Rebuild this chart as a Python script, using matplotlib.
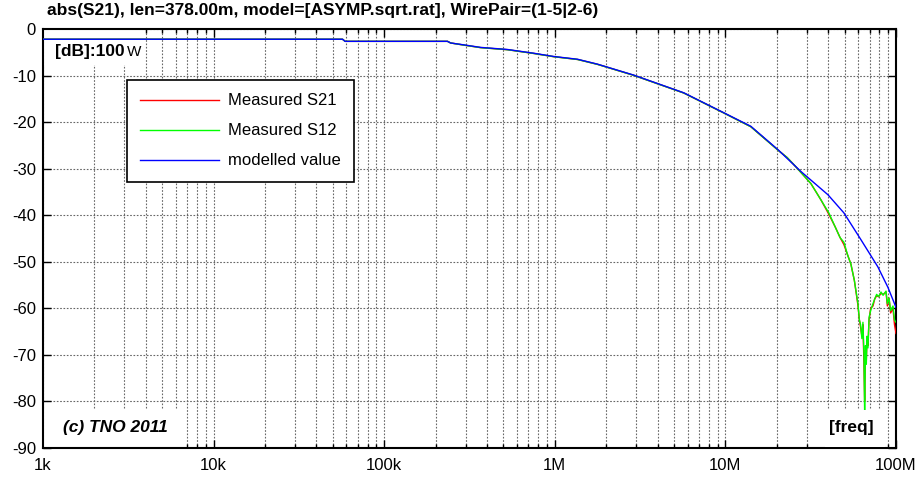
import numpy as np
import matplotlib
matplotlib.use('Agg')
from matplotlib import pyplot as plt
from matplotlib.patches import Rectangle

plt.rcParams['font.family'] = ['Liberation Sans', 'DejaVu Sans']

# model curve (freq in Hz, dB)
freq_model = [1e3, 57e3, 59e3, 235e3, 245e3, 292e3, 367e3, 528e3, 751e3, 985e3,
              1.36e6, 1.78e6, 2.9e6, 5.7e6, 9.8e6, 14.1e6, 20.3e6, 27.7e6, 39.9e6,
              49.5e6, 62.4e6, 78.3e6, 89.7e6, 100e6]
db_model = [-2.2, -2.2, -2.65, -2.65, -3.0, -3.4, -3.95, -4.4, -5.2, -5.9,
            -6.5, -7.55, -9.9, -13.7, -18.0, -20.9, -25.9, -30.6, -35.6,
            -39.5, -45.3, -51.1, -55.5, -59.8]

# measured curves
freq_meas = [1e3, 57e3, 59e3, 235e3, 245e3, 292e3, 367e3, 528e3, 751e3, 985e3,
             1.36e6, 1.78e6, 2.9e6, 5.7e6, 9.8e6, 14.1e6, 20.3e6, 23e6, 25e6,
             27.7e6, 31.7e6, 34e6, 36.3e6, 40.4e6, 44e6, 47e6, 49.5e6, 52e6,
             54.4e6, 57e6, 59.8e6, 61e6, 62e6, 63.1e6, 64e6, 64.9e6, 65.5e6,
             66.2e6, 67e6, 67.6e6, 68.5e6, 69.5e6, 71e6, 73.3e6, 75e6, 77e6,
             79e6, 81.7e6, 84e6, 87.4e6, 89e6, 91e6, 93e6, 96e6, 98e6, 100e6]
db_s12 = [-2.2, -2.2, -2.65, -2.65, -3.0, -3.45, -4.0, -4.45, -5.25, -5.95,
          -6.55, -7.6, -9.95, -13.75, -18.05, -21.0, -26.0, -27.6, -29.0,
          -30.8, -33.2, -35.0, -36.7, -39.5, -42.5, -44.8, -45.8, -48.5,
          -50.5, -54.0, -58.9, -62.5, -63.5, -66.5, -63.0, -70.0, -82.7,
          -68.0, -72.0, -66.0, -68.5, -62.0, -60.5, -59.0, -58.0, -57.0,
          -57.5, -56.5, -57.2, -56.3, -59.0, -57.8, -60.5, -59.5, -62.5, -63.0]
db_s21 = [-2.2, -2.2, -2.65, -2.65, -3.0, -3.45, -4.0, -4.45, -5.25, -5.95,
          -6.55, -7.6, -9.95, -13.75, -18.05, -21.0, -26.0, -27.6, -29.0,
          -30.8, -33.2, -35.0, -36.7, -39.8, -42.5, -44.8, -46.3, -48.5,
          -50.5, -54.0, -59.3, -62.5, -64.0, -66.0, -63.5, -72.0, -80.0,
          -69.0, -71.0, -66.5, -68.0, -62.5, -60.0, -59.5, -58.0, -57.3,
          -57.5, -56.8, -57.0, -56.5, -59.5, -57.8, -61.0, -60.0, -63.5, -65.4]

xticks = [1e3, 1e4, 1e5, 1e6, 1e7, 1e8]
xlabels = ['1k', '10k', '100k', '1M', '10M', '100M']
yticks = [0, -10, -20, -30, -40, -50, -60, -70, -80, -90]

fig = plt.figure(figsize=(9.22, 4.79), dpi=100)
ax = fig.add_axes([43/922, 31/479, 853/922, 419/479])

ax.plot(freq_meas, db_s21, color='#ff0000', lw=1.0, label='Measured S21', zorder=3)
ax.plot(freq_meas, db_s12, color='#00ff00', lw=1.0, label='Measured S12', zorder=4)
ax.plot(freq_model, db_model, color='#0000ff', lw=1.0, label='modelled value', zorder=5)

ax.set_xscale('log')
ax.set_xlim(1e3, 1e8)
ax.set_ylim(-90, 0)
ax.set_xticks(xticks)
ax.set_xticklabels(xlabels)
ax.set_yticks(yticks)
ax.set_yticklabels([str(v) for v in yticks])
ax.xaxis.set_minor_locator(matplotlib.ticker.LogLocator(base=10, subs=np.arange(2, 10)))
ax.xaxis.set_minor_formatter(matplotlib.ticker.NullFormatter())

ax.tick_params(which='both', direction='in', top=True, right=True, labelsize=12, width=1.0)
ax.tick_params(which='major', length=6)
ax.tick_params(which='minor', length=3)
ax.tick_params(axis='x', pad=7)
ax.tick_params(axis='y', pad=5)

ax.grid(True, which='both', axis='x', color='#666666', lw=0.8, linestyle=(0, (1.5, 1.5)))
ax.grid(True, which='major', axis='y', color='#666666', lw=0.8, linestyle=(0, (1.5, 1.5)))
for s in ax.spines.values():
    s.set_linewidth(1.5)

# white label boxes
ax.add_patch(Rectangle((0, 0.914), 0.12, 0.086, transform=ax.transAxes,
                       facecolor='white', edgecolor='none', zorder=2))
ax.add_patch(Rectangle((0, 0.002), 0.166, 0.088, transform=ax.transAxes,
                       facecolor='white', edgecolor='none', zorder=2))
ax.add_patch(Rectangle((0.917, 0.002), 0.07, 0.088, transform=ax.transAxes,
                       facecolor='white', edgecolor='none', zorder=6))

ax.text(0.014, 0.935, '[dB]:100', transform=ax.transAxes, fontsize=12.5,
        fontweight='bold', va='baseline', ha='left', zorder=7)
ax.text(0.0985, 0.935, 'W', transform=ax.transAxes, fontsize=11,
        va='baseline', ha='left', zorder=7)
ax.text(0.0234, 0.048, '(c) TNO 2011', transform=ax.transAxes, fontsize=12.5,
        fontweight='bold', fontstyle='italic', va='center', ha='left', zorder=7)
ax.text(0.922, 0.048, '[freq]', transform=ax.transAxes, fontsize=12.5,
        fontweight='bold', va='center', ha='left', zorder=7)

leg = ax.legend(loc='upper left', bbox_to_anchor=(0.0985, 0.878), borderaxespad=0,
                fontsize=12, handlelength=4.7, handletextpad=0.55, borderpad=0.8,
                labelspacing=0.9, fancybox=False, framealpha=1, edgecolor='black')
leg.get_frame().set_linewidth(1.2)
leg.set_zorder(10)

fig.text(47/922, 1 - 11/479, 'abs(S21), len=378.00m, model=[ASYMP.sqrt.rat], WirePair=(1-5|2-6)',
         fontsize=12.5, fontweight='bold', va='center', ha='left')

fig.savefig('out.png', dpi=100)
